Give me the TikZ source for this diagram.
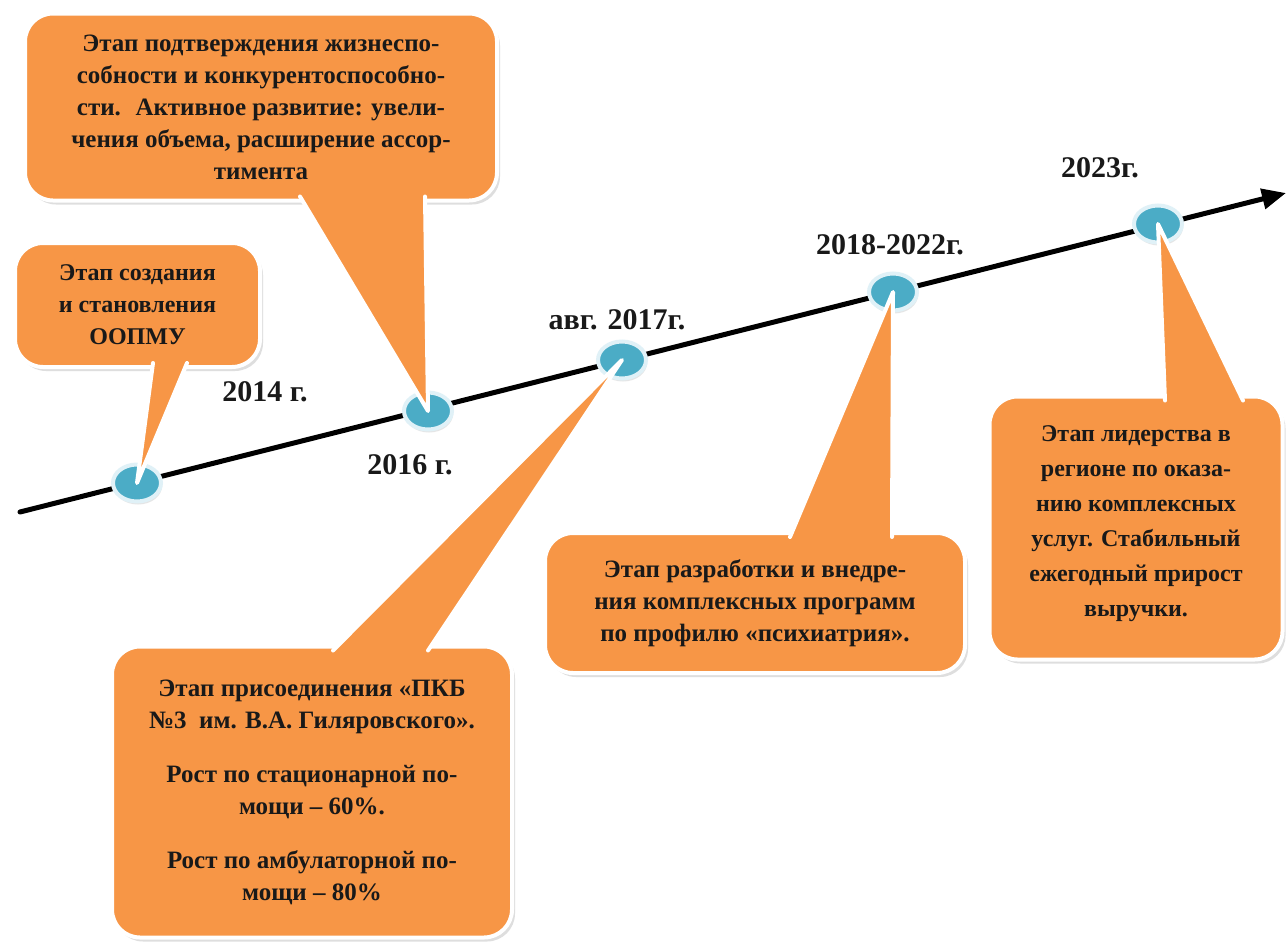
\documentclass[tikz,border=0pt]{standalone}
\usepackage{fontspec}
\setmainfont{Liberation Serif}
\usetikzlibrary{arrows.meta}
\usetikzlibrary{calc}
\usetikzlibrary{shapes.geometric}
\usetikzlibrary{shadows}

\definecolor{stageorange}{RGB}{247,150,70}
\definecolor{dotblue}{RGB}{75,172,198}
\definecolor{dotring}{RGB}{224,241,247}

\begin{document}
\begin{tikzpicture}[x=1pt, y=-1pt, line cap=round,
    stage/.style={rectangle, rounded corners=28pt, fill=stageorange, draw=white, line width=4pt,
        drop shadow={shadow xshift=3pt, shadow yshift=-4pt, fill=black!25},
        align=center, text=black!90, font=\bfseries\fontsize{25}{32}\selectfont},
    tail/.style={fill=stageorange, draw=white, line width=4pt, line join=round},
    dot/.style={ellipse, minimum width=48pt, minimum height=37pt, inner sep=0pt,
        fill=dotblue, draw=dotring, line width=4pt,
        drop shadow={shadow xshift=1pt, shadow yshift=-3pt, fill=black!20}},
    year/.style={font=\bfseries\fontsize{30}{32}\selectfont, text=black!90}]

    \useasboundingbox[fill=white] (0,0) rectangle (1288,948);

    % time axis
    \coordinate (start) at (20,512);
    \coordinate (stop) at (1286,193);
    \draw[line width=5pt, -{Triangle[length=24pt, width=20pt]}] (start) -- (stop);

    \foreach \name/\x/\y in {c14/137/483, c16/428/411, c17/622/360, c18/893/292, c23/1158/224} {
        \node[dot] (\name) at (\x,\y) {};
    }

    % years
    \node[year] (y14) at (265,392) {2014 г.};
    \node[year] (y16) at (410,465) {2016 г.};
    \node[year] (y17) at (617,320) {авг. 2017г.};
    \node[year] (y18) at (890,245) {2018-2022г.};
    \node[year] (y23) at (1100,168) {2023г.};

    % stages
    \node[stage, minimum width=245pt, minimum height=124pt, font=\bfseries\fontsize{24}{32}\selectfont] (s14) at (137.5,305)
        {Этап создания\\и становления\\ООПМУ};
    \filldraw[tail] ($(153,0 |- s14.south)+(0,-6)$) -- (c14.center) -- ($(187,0 |- s14.south)+(0,-6)$);

    \node[stage, minimum width=472pt, minimum height=187pt] (s16) at (261,107)
        {\rule{0pt}{16pt}Этап подтверждения жизнеспо-\\собности и конкурентоспособно-\\сти.~ Активное развитие: увели-\\чения объема, расширение ассор-\\тимента};
    \filldraw[tail] ($(300,0 |- s16.south)+(0,-6)$) -- (c16.center) -- ($(425,0 |- s16.south)+(0,-6)$);

    \node[stage, minimum width=400pt, minimum height=291pt] (s17) at (312,792)
        {Этап присоединения «ПКБ\\№3~ им. В.А. Гиляровского».\\[22pt]Рост по стационарной по-\\мощи – 60\%.\\[22pt]Рост по амбулаторной по-\\мощи – 80\%};
    \filldraw[tail] ($(333,0 |- s17.north)+(0,6)$) -- (c17.center) -- ($(428,0 |- s17.north)+(0,6)$);

    \node[stage, minimum width=420pt, minimum height=140pt] (s18) at (755,603)
        {Этап разработки и внедре-\\ния комплексных программ\\по профилю «психиатрия».};
    \filldraw[tail] ($(790,0 |- s18.north)+(0,6)$) -- (c18.center) -- ($(892,0 |- s18.north)+(0,6)$);

    \node[stage, minimum width=293pt, minimum height=263pt, font=\bfseries\fontsize{24}{35}\selectfont] (s23) at (1136,528)
        {Этап лидерства в\\регионе по оказа-\\нию комплексных\\услуг. Стабильный\\ежегодный прирост\\выручки.\rule[-14pt]{0pt}{14pt}};
    \filldraw[tail] ($(1165,0 |- s23.north)+(0,6)$) -- (c23.center) -- ($(1243,0 |- s23.north)+(0,6)$);

\end{tikzpicture}
\end{document}
